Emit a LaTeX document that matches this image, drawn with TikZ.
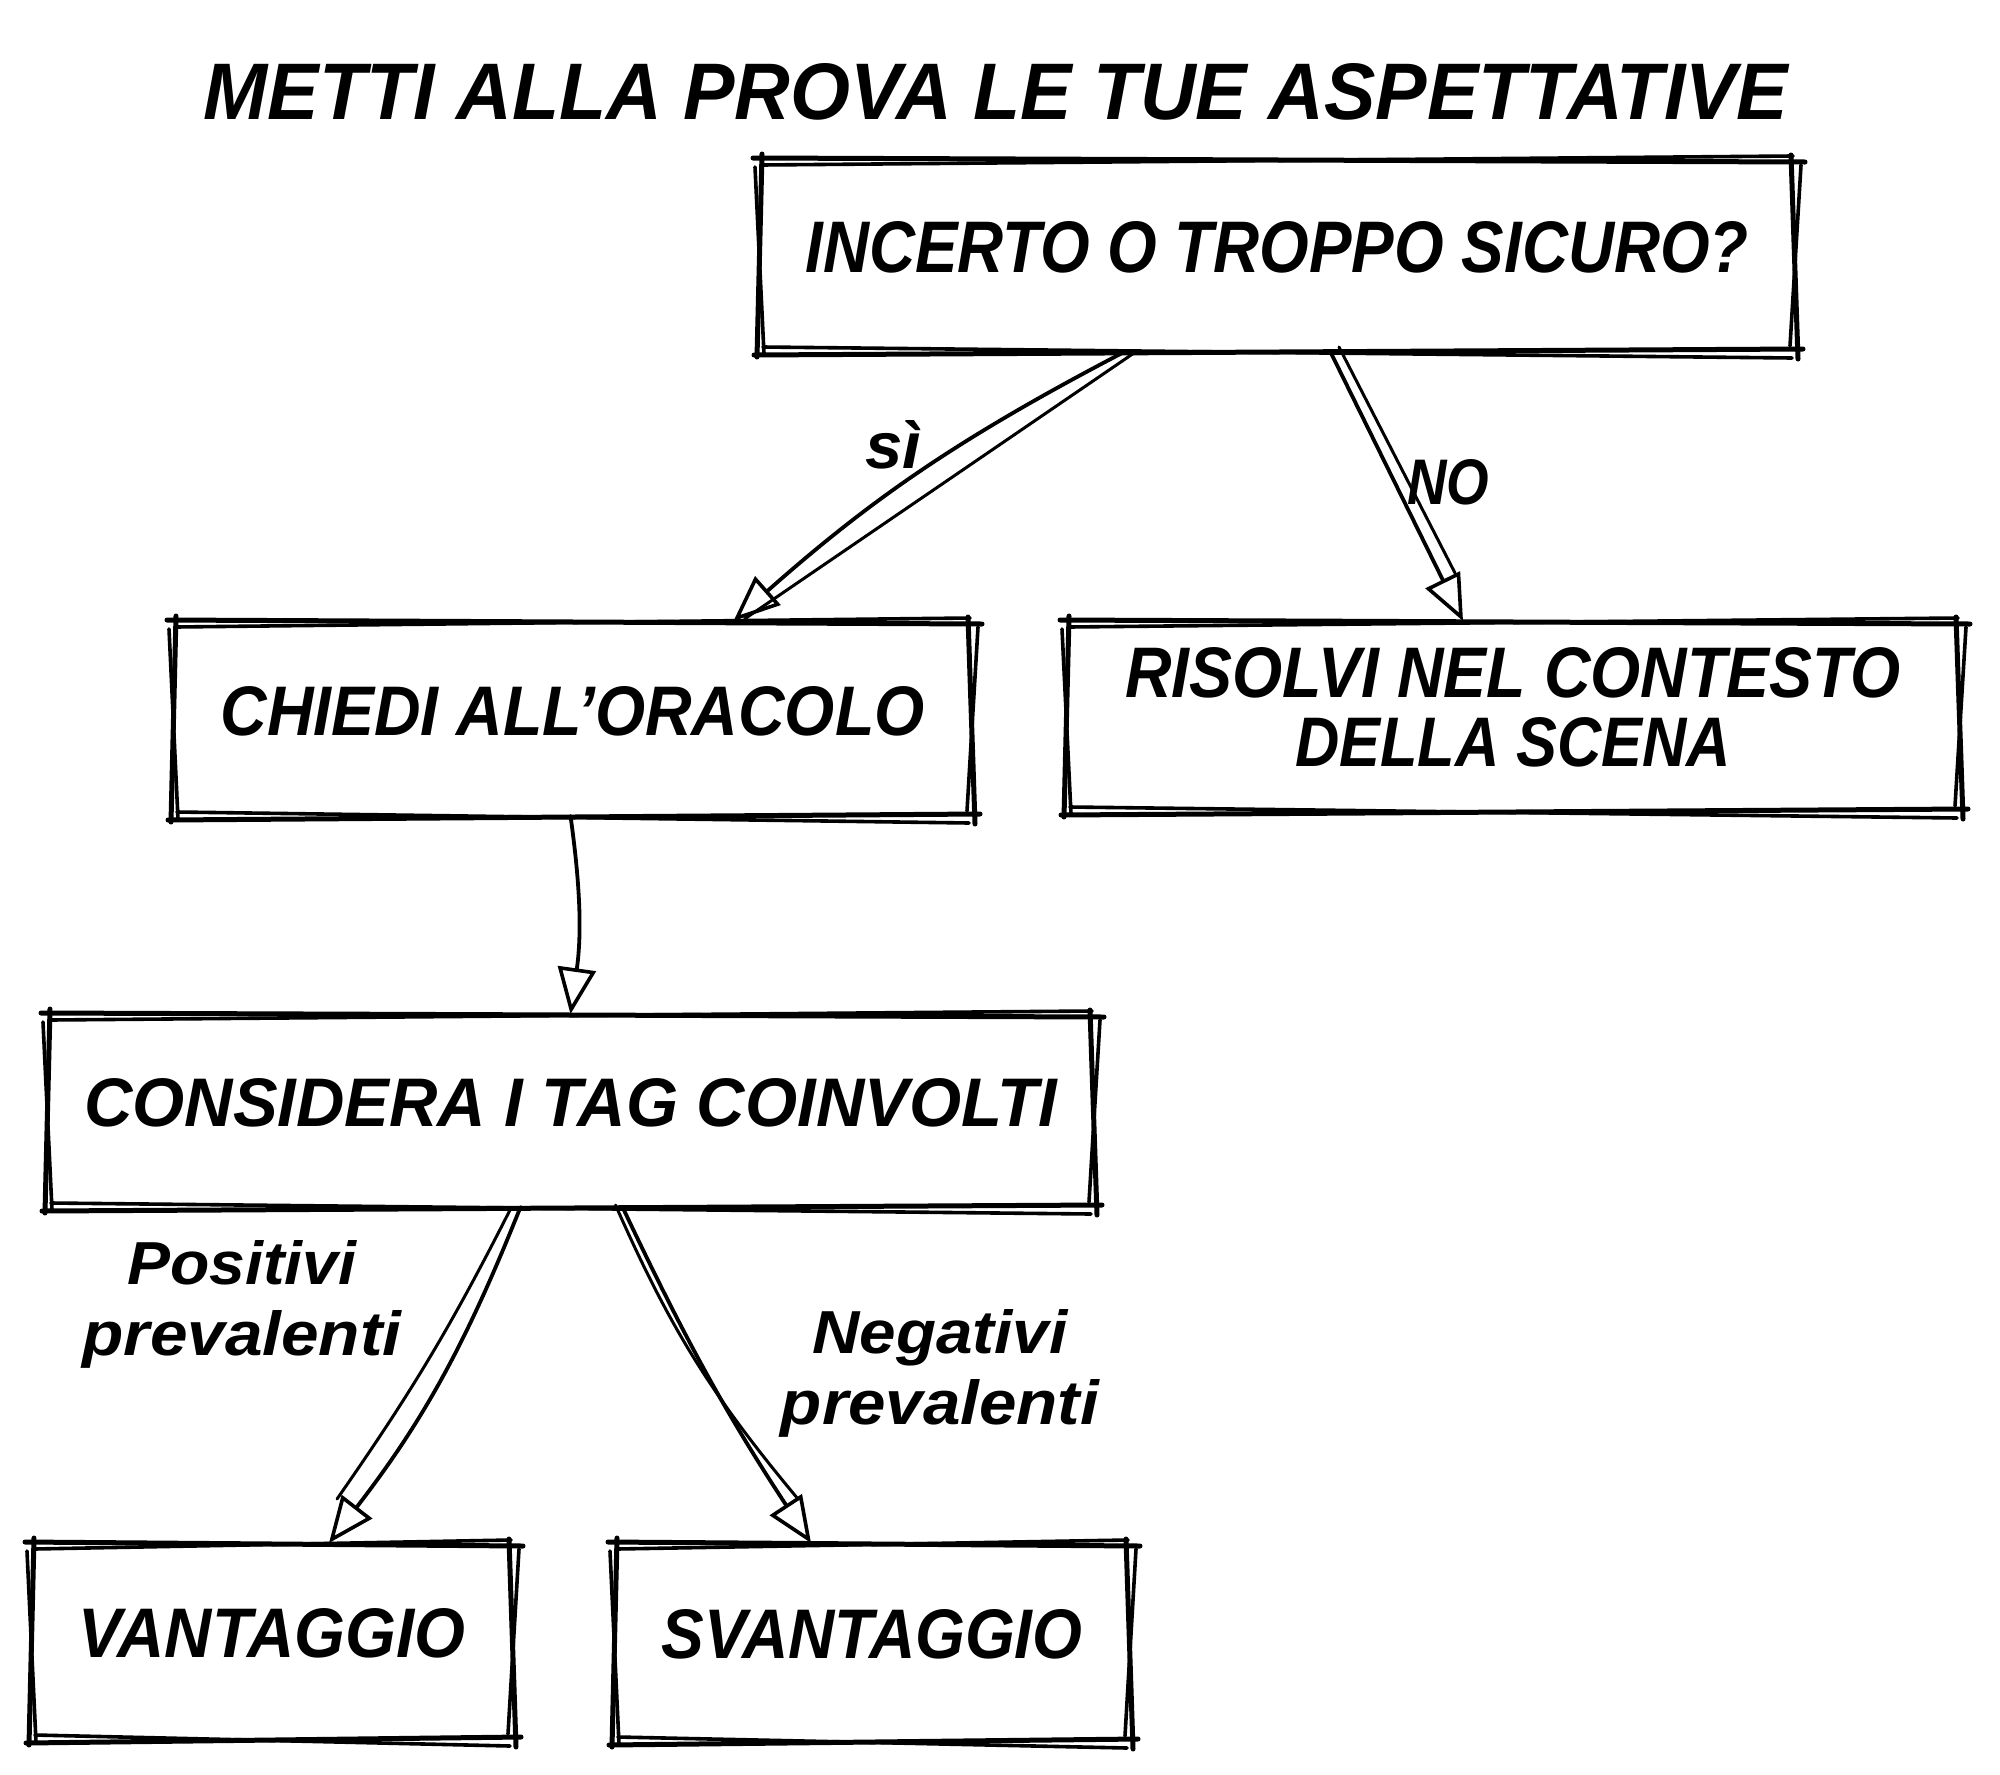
\documentclass[tikz,border=0pt]{standalone}
\usepackage{fontspec}
\setmainfont{Liberation Sans}
\usetikzlibrary{arrows.meta,calc}
\newcommand\fitt[3]{\resizebox{#1}{#2}{#3}}
\tikzset{
  ink/.style={line width=5pt, line cap=round, line join=round},
  inkb/.style={line width=3.6pt, line cap=round, line join=round},
  box/.style={rectangle, inner sep=0pt, outer sep=0pt, align=center, text depth=16pt, font=\bfseries\itshape},
  conn/.style={line width=3.8pt, line cap=round, -{Triangle[open, length=46pt, width=38pt, line width=3.6pt]}},
  connb/.style={line width=3pt, line cap=round},
  lbl/.style={inner sep=0pt, align=center, font=\fontsize{40}{71}\selectfont\bfseries\itshape}
}
\newcommand\rough[1]{%
  \draw[ink]  ([shift={(-6,1)}]#1.north west) -- ([shift={(10,-3)}]#1.north east);
  \draw[inkb] ([shift={(3,-6)}]#1.north west) -- ([shift={(-2,3)}]#1.north east);
  \draw[ink]  ([shift={(-4,4)}]#1.north east) -- ([shift={(3,-8)}]#1.south east);
  \draw[inkb] ([shift={(6,-6)}]#1.north east) -- ([shift={(-5,5)}]#1.south east);
  \draw[ink]  ([shift={(8,2)}]#1.south east) -- ([shift={(-5,-4)}]#1.south west);
  \draw[inkb] ([shift={(-3,-7)}]#1.south east) -- ([shift={(4,4)}]#1.south west);
  \draw[ink]  ([shift={(-2,-6)}]#1.south west) -- ([shift={(3,5)}]#1.north west);
  \draw[inkb] ([shift={(5,-3)}]#1.south west) -- ([shift={(-4,-8)}]#1.north west);
}
\begin{document}
\begin{tikzpicture}[x=1pt,y=1pt]
\fill[white] (0,0) rectangle (2000,-1775);
\useasboundingbox (0,0) rectangle (2000,-1775);

\node[box, text depth=0pt] (title) at (996,-91) {\fitt{1584pt}{56pt}{METTI ALLA PROVA LE TUE ASPETTATIVE}};

\node[box, minimum width=1036pt, minimum height=192pt] (q) at (1277,-255)
  {\fitt{943pt}{51pt}{INCERTO O TROPPO SICURO?}};
\node[box, minimum width=799pt, minimum height=195pt] (c) at (572.5,-718.5)
  {\fitt{704pt}{49pt}{CHIEDI ALL'ORACOLO}};
\node[box, minimum width=894pt, minimum height=190pt, text depth=18pt, font=\fontsize{50}{69}\selectfont\bfseries\itshape] (r) at (1513,-716)
  {\fitt{775pt}{50pt}{RISOLVI NEL CONTESTO}\\\fitt{436pt}{49pt}{DELLA SCENA}};
\node[box, minimum width=1047pt, minimum height=193pt] (k) at (570.5,-1110.5)
  {\fitt{972pt}{48pt}{CONSIDERA I TAG COINVOLTI}};
\node[box, minimum width=482pt, minimum height=196pt] (v) at (272,-1641)
  {\fitt{386pt}{49pt}{VANTAGGIO}};
\node[box, minimum width=516pt, minimum height=198pt] (s) at (872,-1642)
  {\fitt{421pt}{49pt}{SVANTAGGIO}};

\rough{q}\rough{c}\rough{r}\rough{k}\rough{v}\rough{s}

% connectors
\draw[conn]  ([xshift=-151pt]q.south) to[bend right=7] ([xshift=161pt]c.north);
\draw[connb] ([xshift=-143pt,yshift=-2pt]q.south) -- ([xshift=172pt,yshift=2pt]c.north);

\draw[conn]  ([xshift=53pt]q.south) -- ([xshift=-50pt]r.north);
\draw[connb] ([xshift=62pt,yshift=4pt]q.south) -- ([xshift=-58pt,yshift=48pt]r.north);

\draw[conn]  ([xshift=-2pt]c.south) to[bend left=8] (k.north);

\draw[conn]  ([xshift=-50pt]k.south) to[bend left=8] ([xshift=57pt]v.north);
\draw[connb] ([xshift=-60pt,yshift=-2pt]k.south) to[bend left=4] ([xshift=65pt,yshift=44pt]v.north);

\draw[conn]  ([xshift=52pt]k.south) to[bend right=4] ([xshift=-61pt]s.north);
\draw[connb] ([xshift=45pt,yshift=2pt]k.south) to[bend right=8] ([xshift=-74pt,yshift=44pt]s.north);

% labels
\node[lbl] (si) at (893,-445) {\fitt{56pt}{48pt}{sì}};
\node[lbl] (no) at (1448,-482) {\fitt{82pt}{45pt}{NO}};
\node[lbl] (pos) at (242,-1304) {\fitt{229pt}{44pt}{Positivi}\\\fitt{319pt}{45pt}{prevalenti}};
\node[lbl] (neg) at (940,-1373) {\fitt{255pt}{44pt}{Negativi}\\\fitt{318pt}{45pt}{prevalenti}};
\end{tikzpicture}
\end{document}
